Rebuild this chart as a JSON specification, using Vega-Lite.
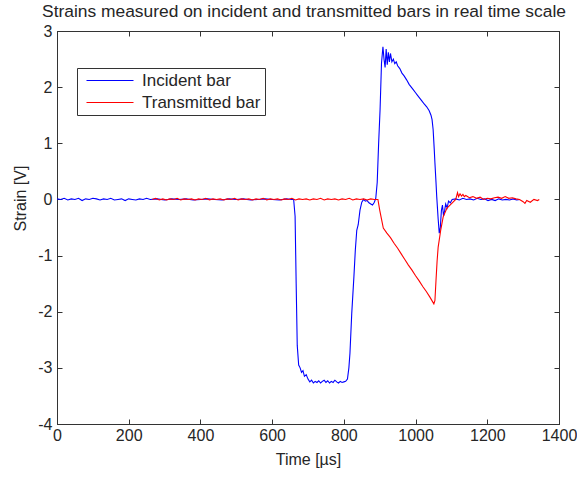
{
  "$schema": "https://vega.github.io/schema/vega-lite/v6.json",
  "width": 502,
  "height": 393,
  "autosize": {"type": "none"},
  "padding": {"left": 57, "top": 31, "right": 18, "bottom": 53},
  "background": "white",
  "config": {
    "font": "Liberation Sans",
    "view": {"stroke": "#333333", "strokeWidth": 1},
    "axis": {"grid": false, "domainColor": "#333333", "tickColor": "#333333", "labelColor": "#262626", "titleColor": "#262626", "labelFontSize": 16, "titleFontSize": 16, "titleFontWeight": "normal", "tickSize": -5, "labelFlush": false, "labelExpr": "'' + datum.value"}
  },
  "title": {"text": "Strains measured on incident and transmitted bars in real time scale", "fontSize": 17.4, "fontWeight": "normal", "color": "#262626", "offset": 3, "anchor": "middle", "dx": -4},
  "data": {"values": [
    {"t":0,"s":0.01,"series":"Incident bar"},{"t":10,"s":0.0,"series":"Incident bar"},{"t":20,"s":0.02,"series":"Incident bar"},{"t":30,"s":-0.01,"series":"Incident bar"},{"t":40,"s":0.01,"series":"Incident bar"},{"t":50,"s":0.0,"series":"Incident bar"},{"t":60,"s":0.02,"series":"Incident bar"},{"t":70,"s":-0.02,"series":"Incident bar"},{"t":80,"s":0.01,"series":"Incident bar"},{"t":90,"s":0.0,"series":"Incident bar"},{"t":100,"s":0.02,"series":"Incident bar"},{"t":110,"s":0.01,"series":"Incident bar"},{"t":120,"s":-0.01,"series":"Incident bar"},{"t":130,"s":0.01,"series":"Incident bar"},{"t":140,"s":0.0,"series":"Incident bar"},{"t":150,"s":0.02,"series":"Incident bar"},{"t":160,"s":-0.01,"series":"Incident bar"},{"t":170,"s":0.0,"series":"Incident bar"},{"t":180,"s":0.01,"series":"Incident bar"},{"t":190,"s":-0.02,"series":"Incident bar"},{"t":200,"s":0.01,"series":"Incident bar"},{"t":210,"s":0.0,"series":"Incident bar"},{"t":220,"s":-0.01,"series":"Incident bar"},{"t":230,"s":0.01,"series":"Incident bar"},{"t":240,"s":0.0,"series":"Incident bar"},{"t":250,"s":0.02,"series":"Incident bar"},{"t":260,"s":0.0,"series":"Incident bar"},{"t":280,"s":0.01,"series":"Incident bar"},{"t":300,"s":-0.01,"series":"Incident bar"},{"t":320,"s":0.01,"series":"Incident bar"},{"t":340,"s":0.0,"series":"Incident bar"},{"t":360,"s":0.01,"series":"Incident bar"},{"t":380,"s":-0.01,"series":"Incident bar"},{"t":400,"s":0.0,"series":"Incident bar"},{"t":420,"s":0.01,"series":"Incident bar"},{"t":440,"s":0.0,"series":"Incident bar"},{"t":460,"s":-0.01,"series":"Incident bar"},{"t":480,"s":0.01,"series":"Incident bar"},{"t":500,"s":0.0,"series":"Incident bar"},{"t":520,"s":0.01,"series":"Incident bar"},{"t":540,"s":-0.01,"series":"Incident bar"},{"t":560,"s":0.0,"series":"Incident bar"},{"t":580,"s":0.01,"series":"Incident bar"},{"t":600,"s":0.0,"series":"Incident bar"},{"t":620,"s":-0.01,"series":"Incident bar"},{"t":640,"s":0.01,"series":"Incident bar"},{"t":655,"s":0.0,"series":"Incident bar"},{"t":660,"s":0.0,"series":"Incident bar"},
    {"t":664,"s":-0.3,"series":"Incident bar"},{"t":667,"s":-1.5,"series":"Incident bar"},{"t":670,"s":-2.6,"series":"Incident bar"},{"t":674,"s":-2.95,"series":"Incident bar"},{"t":678,"s":-3.0,"series":"Incident bar"},{"t":682,"s":-3.08,"series":"Incident bar"},{"t":686,"s":-3.05,"series":"Incident bar"},{"t":690,"s":-3.15,"series":"Incident bar"},{"t":695,"s":-3.12,"series":"Incident bar"},{"t":700,"s":-3.2,"series":"Incident bar"},{"t":705,"s":-3.25,"series":"Incident bar"},{"t":710,"s":-3.22,"series":"Incident bar"},{"t":715,"s":-3.27,"series":"Incident bar"},{"t":720,"s":-3.24,"series":"Incident bar"},{"t":725,"s":-3.26,"series":"Incident bar"},{"t":730,"s":-3.23,"series":"Incident bar"},{"t":735,"s":-3.27,"series":"Incident bar"},{"t":740,"s":-3.24,"series":"Incident bar"},{"t":745,"s":-3.22,"series":"Incident bar"},{"t":750,"s":-3.26,"series":"Incident bar"},{"t":755,"s":-3.23,"series":"Incident bar"},{"t":760,"s":-3.27,"series":"Incident bar"},{"t":765,"s":-3.24,"series":"Incident bar"},{"t":770,"s":-3.26,"series":"Incident bar"},{"t":775,"s":-3.22,"series":"Incident bar"},{"t":780,"s":-3.25,"series":"Incident bar"},{"t":785,"s":-3.27,"series":"Incident bar"},{"t":790,"s":-3.24,"series":"Incident bar"},{"t":795,"s":-3.26,"series":"Incident bar"},{"t":800,"s":-3.25,"series":"Incident bar"},{"t":805,"s":-3.24,"series":"Incident bar"},{"t":810,"s":-3.2,"series":"Incident bar"},{"t":814,"s":-3.0,"series":"Incident bar"},{"t":817,"s":-2.74,"series":"Incident bar"},{"t":822,"s":-2.03,"series":"Incident bar"},{"t":828,"s":-1.38,"series":"Incident bar"},{"t":832,"s":-0.9,"series":"Incident bar"},{"t":836,"s":-0.55,"series":"Incident bar"},{"t":840,"s":-0.45,"series":"Incident bar"},{"t":845,"s":-0.19,"series":"Incident bar"},{"t":850,"s":-0.05,"series":"Incident bar"},{"t":855,"s":0.0,"series":"Incident bar"},{"t":860,"s":-0.03,"series":"Incident bar"},{"t":865,"s":-0.02,"series":"Incident bar"},{"t":870,"s":-0.06,"series":"Incident bar"},{"t":875,"s":-0.08,"series":"Incident bar"},{"t":880,"s":-0.1,"series":"Incident bar"},{"t":885,"s":-0.05,"series":"Incident bar"},{"t":889,"s":0.02,"series":"Incident bar"},{"t":893,"s":0.3,"series":"Incident bar"},{"t":897,"s":1.0,"series":"Incident bar"},{"t":901,"s":1.6,"series":"Incident bar"},{"t":905,"s":2.43,"series":"Incident bar"},{"t":909,"s":2.72,"series":"Incident bar"},{"t":912,"s":2.5,"series":"Incident bar"},{"t":915,"s":2.35,"series":"Incident bar"},{"t":918,"s":2.68,"series":"Incident bar"},{"t":921,"s":2.4,"series":"Incident bar"},{"t":924,"s":2.62,"series":"Incident bar"},{"t":927,"s":2.45,"series":"Incident bar"},{"t":930,"s":2.6,"series":"Incident bar"},{"t":934,"s":2.45,"series":"Incident bar"},{"t":938,"s":2.5,"series":"Incident bar"},{"t":942,"s":2.42,"series":"Incident bar"},{"t":946,"s":2.45,"series":"Incident bar"},{"t":950,"s":2.38,"series":"Incident bar"},{"t":956,"s":2.33,"series":"Incident bar"},{"t":962,"s":2.25,"series":"Incident bar"},{"t":968,"s":2.2,"series":"Incident bar"},{"t":975,"s":2.13,"series":"Incident bar"},{"t":982,"s":2.05,"series":"Incident bar"},{"t":988,"s":2.0,"series":"Incident bar"},{"t":994,"s":1.95,"series":"Incident bar"},{"t":1000,"s":1.9,"series":"Incident bar"},{"t":1006,"s":1.85,"series":"Incident bar"},{"t":1012,"s":1.8,"series":"Incident bar"},{"t":1018,"s":1.75,"series":"Incident bar"},{"t":1024,"s":1.7,"series":"Incident bar"},{"t":1031,"s":1.65,"series":"Incident bar"},{"t":1038,"s":1.58,"series":"Incident bar"},{"t":1043,"s":1.5,"series":"Incident bar"},{"t":1046,"s":1.42,"series":"Incident bar"},{"t":1049,"s":1.24,"series":"Incident bar"},{"t":1052,"s":0.9,"series":"Incident bar"},{"t":1054,"s":0.65,"series":"Incident bar"},{"t":1057,"s":0.3,"series":"Incident bar"},{"t":1059,"s":0.05,"series":"Incident bar"},{"t":1061,"s":-0.15,"series":"Incident bar"},{"t":1063,"s":-0.35,"series":"Incident bar"},{"t":1066,"s":-0.6,"series":"Incident bar"},{"t":1069,"s":-0.5,"series":"Incident bar"},{"t":1072,"s":-0.2,"series":"Incident bar"},{"t":1075,"s":-0.1,"series":"Incident bar"},{"t":1078,"s":-0.3,"series":"Incident bar"},{"t":1081,"s":-0.2,"series":"Incident bar"},{"t":1084,"s":-0.08,"series":"Incident bar"},{"t":1088,"s":-0.15,"series":"Incident bar"},{"t":1092,"s":-0.03,"series":"Incident bar"},{"t":1097,"s":-0.06,"series":"Incident bar"},{"t":1102,"s":0.0,"series":"Incident bar"},{"t":1112,"s":0.01,"series":"Incident bar"},{"t":1122,"s":-0.01,"series":"Incident bar"},{"t":1132,"s":0.02,"series":"Incident bar"},{"t":1142,"s":0.0,"series":"Incident bar"},{"t":1152,"s":0.01,"series":"Incident bar"},{"t":1162,"s":-0.01,"series":"Incident bar"},{"t":1172,"s":0.02,"series":"Incident bar"},{"t":1182,"s":0.0,"series":"Incident bar"},{"t":1192,"s":0.01,"series":"Incident bar"},{"t":1202,"s":-0.02,"series":"Incident bar"},{"t":1212,"s":0.0,"series":"Incident bar"},{"t":1222,"s":-0.02,"series":"Incident bar"},{"t":1232,"s":0.01,"series":"Incident bar"},{"t":1242,"s":-0.01,"series":"Incident bar"},{"t":1252,"s":0.0,"series":"Incident bar"},{"t":1262,"s":-0.01,"series":"Incident bar"},{"t":1272,"s":0.01,"series":"Incident bar"},{"t":1282,"s":-0.01,"series":"Incident bar"},{"t":1291,"s":0.0,"series":"Incident bar"},
    {"t":265,"s":0.0,"series":"Transmitted bar"},{"t":275,"s":0.02,"series":"Transmitted bar"},{"t":285,"s":-0.01,"series":"Transmitted bar"},{"t":295,"s":0.01,"series":"Transmitted bar"},{"t":305,"s":-0.01,"series":"Transmitted bar"},{"t":315,"s":0.01,"series":"Transmitted bar"},{"t":325,"s":0.0,"series":"Transmitted bar"},{"t":335,"s":0.02,"series":"Transmitted bar"},{"t":345,"s":-0.01,"series":"Transmitted bar"},{"t":355,"s":0.01,"series":"Transmitted bar"},{"t":365,"s":0.0,"series":"Transmitted bar"},{"t":375,"s":0.01,"series":"Transmitted bar"},{"t":385,"s":-0.01,"series":"Transmitted bar"},{"t":395,"s":0.01,"series":"Transmitted bar"},{"t":405,"s":0.0,"series":"Transmitted bar"},{"t":415,"s":0.02,"series":"Transmitted bar"},{"t":425,"s":-0.01,"series":"Transmitted bar"},{"t":435,"s":0.01,"series":"Transmitted bar"},{"t":445,"s":0.0,"series":"Transmitted bar"},{"t":455,"s":0.01,"series":"Transmitted bar"},{"t":465,"s":-0.01,"series":"Transmitted bar"},{"t":475,"s":0.01,"series":"Transmitted bar"},{"t":485,"s":0.0,"series":"Transmitted bar"},{"t":495,"s":0.02,"series":"Transmitted bar"},{"t":505,"s":-0.01,"series":"Transmitted bar"},{"t":515,"s":0.01,"series":"Transmitted bar"},{"t":525,"s":0.0,"series":"Transmitted bar"},{"t":535,"s":0.01,"series":"Transmitted bar"},{"t":545,"s":-0.01,"series":"Transmitted bar"},{"t":555,"s":0.01,"series":"Transmitted bar"},{"t":565,"s":0.0,"series":"Transmitted bar"},{"t":575,"s":0.02,"series":"Transmitted bar"},{"t":585,"s":-0.01,"series":"Transmitted bar"},{"t":595,"s":0.01,"series":"Transmitted bar"},{"t":605,"s":0.0,"series":"Transmitted bar"},{"t":615,"s":0.01,"series":"Transmitted bar"},{"t":625,"s":-0.01,"series":"Transmitted bar"},{"t":635,"s":0.01,"series":"Transmitted bar"},{"t":645,"s":0.0,"series":"Transmitted bar"},{"t":655,"s":0.02,"series":"Transmitted bar"},{"t":665,"s":-0.01,"series":"Transmitted bar"},{"t":675,"s":0.01,"series":"Transmitted bar"},{"t":685,"s":0.0,"series":"Transmitted bar"},{"t":695,"s":0.01,"series":"Transmitted bar"},{"t":705,"s":-0.01,"series":"Transmitted bar"},{"t":715,"s":0.01,"series":"Transmitted bar"},{"t":725,"s":0.0,"series":"Transmitted bar"},{"t":735,"s":0.02,"series":"Transmitted bar"},{"t":745,"s":-0.01,"series":"Transmitted bar"},{"t":755,"s":0.01,"series":"Transmitted bar"},{"t":765,"s":0.0,"series":"Transmitted bar"},{"t":775,"s":0.01,"series":"Transmitted bar"},{"t":785,"s":-0.01,"series":"Transmitted bar"},{"t":795,"s":0.01,"series":"Transmitted bar"},{"t":805,"s":0.0,"series":"Transmitted bar"},{"t":815,"s":0.02,"series":"Transmitted bar"},{"t":825,"s":-0.01,"series":"Transmitted bar"},{"t":835,"s":0.01,"series":"Transmitted bar"},{"t":845,"s":0.0,"series":"Transmitted bar"},{"t":855,"s":0.01,"series":"Transmitted bar"},{"t":865,"s":-0.01,"series":"Transmitted bar"},{"t":875,"s":0.01,"series":"Transmitted bar"},{"t":885,"s":0.0,"series":"Transmitted bar"},{"t":895,"s":0.0,"series":"Transmitted bar"},
    {"t":900,"s":-0.19,"series":"Transmitted bar"},{"t":905,"s":-0.35,"series":"Transmitted bar"},{"t":910,"s":-0.51,"series":"Transmitted bar"},{"t":920,"s":-0.6,"series":"Transmitted bar"},{"t":930,"s":-0.68,"series":"Transmitted bar"},{"t":940,"s":-0.78,"series":"Transmitted bar"},{"t":950,"s":-0.87,"series":"Transmitted bar"},{"t":960,"s":-0.97,"series":"Transmitted bar"},{"t":970,"s":-1.07,"series":"Transmitted bar"},{"t":980,"s":-1.17,"series":"Transmitted bar"},{"t":990,"s":-1.26,"series":"Transmitted bar"},{"t":1000,"s":-1.36,"series":"Transmitted bar"},{"t":1010,"s":-1.45,"series":"Transmitted bar"},{"t":1020,"s":-1.55,"series":"Transmitted bar"},{"t":1030,"s":-1.64,"series":"Transmitted bar"},{"t":1040,"s":-1.74,"series":"Transmitted bar"},{"t":1051,"s":-1.86,"series":"Transmitted bar"},{"t":1054,"s":-1.8,"series":"Transmitted bar"},{"t":1057,"s":-1.44,"series":"Transmitted bar"},{"t":1060,"s":-1.1,"series":"Transmitted bar"},{"t":1063,"s":-0.85,"series":"Transmitted bar"},{"t":1067,"s":-0.68,"series":"Transmitted bar"},{"t":1070,"s":-0.55,"series":"Transmitted bar"},{"t":1077,"s":-0.31,"series":"Transmitted bar"},{"t":1087,"s":-0.16,"series":"Transmitted bar"},{"t":1101,"s":-0.07,"series":"Transmitted bar"},{"t":1112,"s":0.0,"series":"Transmitted bar"},{"t":1117,"s":0.12,"series":"Transmitted bar"},{"t":1120,"s":0.05,"series":"Transmitted bar"},{"t":1124,"s":0.1,"series":"Transmitted bar"},{"t":1128,"s":0.06,"series":"Transmitted bar"},{"t":1132,"s":0.09,"series":"Transmitted bar"},{"t":1136,"s":0.05,"series":"Transmitted bar"},{"t":1140,"s":0.07,"series":"Transmitted bar"},{"t":1150,"s":0.03,"series":"Transmitted bar"},{"t":1160,"s":0.05,"series":"Transmitted bar"},{"t":1170,"s":0.02,"series":"Transmitted bar"},{"t":1180,"s":0.04,"series":"Transmitted bar"},{"t":1190,"s":0.0,"series":"Transmitted bar"},{"t":1200,"s":0.02,"series":"Transmitted bar"},{"t":1210,"s":0.01,"series":"Transmitted bar"},{"t":1220,"s":0.03,"series":"Transmitted bar"},{"t":1230,"s":0.04,"series":"Transmitted bar"},{"t":1240,"s":0.02,"series":"Transmitted bar"},{"t":1250,"s":0.05,"series":"Transmitted bar"},{"t":1260,"s":0.02,"series":"Transmitted bar"},{"t":1270,"s":0.03,"series":"Transmitted bar"},{"t":1280,"s":0.01,"series":"Transmitted bar"},{"t":1290,"s":0.0,"series":"Transmitted bar"},{"t":1300,"s":-0.04,"series":"Transmitted bar"},{"t":1305,"s":-0.07,"series":"Transmitted bar"},{"t":1310,"s":-0.02,"series":"Transmitted bar"},{"t":1320,"s":-0.05,"series":"Transmitted bar"},{"t":1330,"s":0.0,"series":"Transmitted bar"},{"t":1340,"s":-0.02,"series":"Transmitted bar"},{"t":1345,"s":0.0,"series":"Transmitted bar"}
  ]},
  "layer": [
    {
      "mark": {"type": "line", "strokeWidth": 1.1, "clip": true},
      "encoding": {
        "x": {"field": "t", "type": "quantitative", "scale": {"domain": [0, 1400], "nice": false, "zero": false}, "axis": {"title": "Time [µs]", "values": [0,200,400,600,800,1000,1200,1400], "titlePadding": 8, "labelPadding": 8}},
        "y": {"field": "s", "type": "quantitative", "scale": {"domain": [-4, 3], "nice": false, "zero": false}, "axis": {"title": "Strain [V]", "values": [-4,-3,-2,-1,0,1,2,3], "titlePadding": 9, "labelPadding": 10, "titleY": 167, "titleAlign": "center"}},
        "color": {"field": "series", "type": "nominal", "scale": {"domain": ["Incident bar", "Transmitted bar"], "range": ["#0000ff", "#ff0000"]},
          "legend": {"title": null, "orient": "none", "legendX": 20, "legendY": 37, "symbolType": "M-0.6,0H8.8", "symbolSize": 100, "symbolStrokeWidth": 1.2, "symbolFillColor": "transparent", "labelFontSize": 17, "labelColor": "#262626", "strokeColor": "#333333", "fillColor": "white", "padding": 4, "rowPadding": 4, "labelOffset": 44}}
      }
    },
    {
      "mark": {"type": "line", "opacity": 0},
      "encoding": {
        "x": {"field": "t", "type": "quantitative", "scale": {"domain": [0, 1400], "nice": false, "zero": false}, "axis": {"orient": "top", "title": null, "labels": false, "values": [0,200,400,600,800,1000,1200,1400]}},
        "y": {"field": "s", "type": "quantitative", "scale": {"domain": [-4, 3], "nice": false, "zero": false}, "axis": {"orient": "right", "title": null, "labels": false, "values": [-4,-3,-2,-1,0,1,2,3]}},
        "detail": {"field": "series"}
      }
    }
  ],
  "resolve": {"axis": {"x": "independent", "y": "independent"}}
}
